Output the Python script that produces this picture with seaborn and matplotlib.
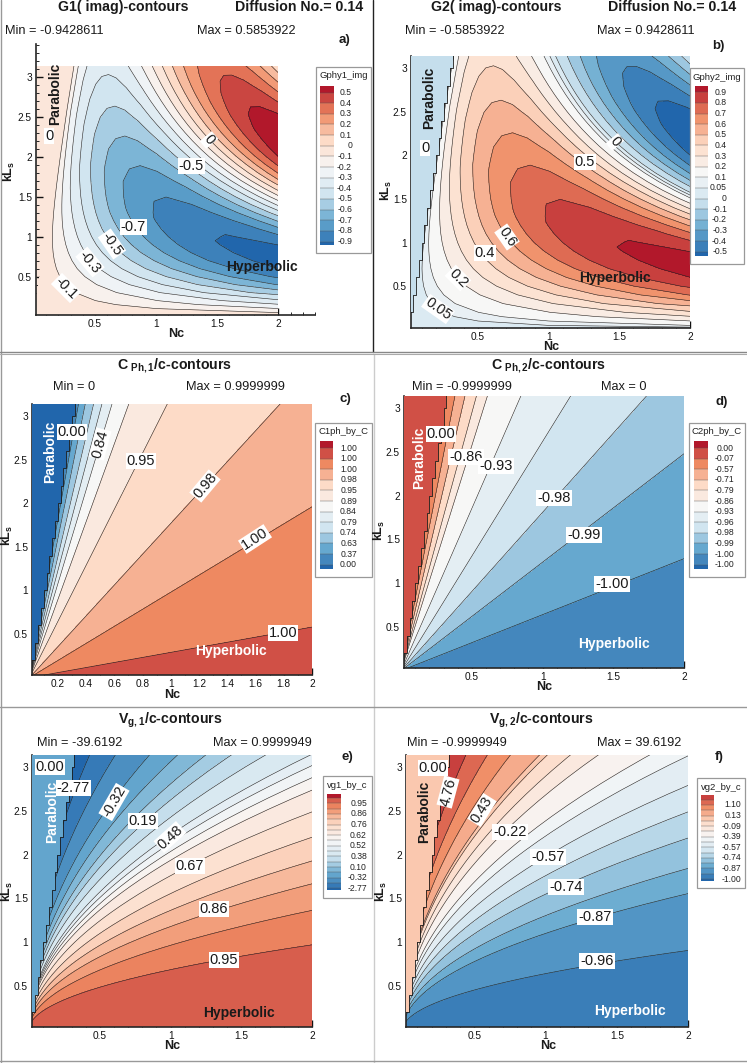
import numpy as np
import seaborn as sns
import matplotlib
matplotlib.use("Agg")
import matplotlib.pyplot as plt
from matplotlib.lines import Line2D
from matplotlib.patches import Rectangle
from matplotlib.ticker import MultipleLocator, FuncFormatter

W, H = 747, 1063

# G1 imag in panel a): damping per kLs row times swing per phase column.
# G2 in panel b) mirrors it (Min/Max swap)
amp_kl = [.02, .05, .1, .15, .2, .3, .4, .5, .6, .7, .8, .9, 1, 1.1, 1.2, 1.3, 1.4, 1.5, 1.6, 1.7, 1.8,
          1.9, 2, 2.1, 2.2, 2.3, 2.4, 2.5, 2.6, 2.7, 2.8, 2.9, 3, 3.1, 3.14]
amp_val = [1, 1, .999, .998, .996, .991, .984, .975, .965, .952, .938, .922, .905, .886, .866, .845, .822,
           .799, .774, .749, .723, .697, .670, .643, .616, .589, .562, .535, .509, .482, .456, .431, .407,
           .382, .373]
wave_ph = [0, .01, .02, .05, .1, .2, .4, .6, .8, 1.0, 1.2, 1.4, 1.6, 1.8, 2.0, 2.2, 2.4, 2.6, 2.8, 3.0, 3.2,
           3.4, 3.6, 3.8, 4.0, 4.2, 4.4, 4.6, 4.8, 5.0, 5.2, 5.4, 5.6, 5.8, 6.0, 6.2, 6.4]
wave_val = [0, -.01, -.02, -.05, -.1, -.199, -.389, -.565, -.717, -.841, -.932, -.985, -1.0, -.974, -.909,
            -.808, -.675, -.516, -.335, -.141, .058, .256, .443, .612, .757, .872, .952, .994, .996, .959,
            .883, .773, .631, .465, .279, .083, -.117]
a_levels = [-.9, -.8, -.7, -.6, -.5, -.4, -.3, -.2, -.1, 0, .1, .2, .3, .4, .5]
a_bar = ['0.5', '0.4', '0.3', '0.2', '0.1', '0', '-0.1', '-0.2', '-0.3', '-0.4', '-0.5', '-0.6', '-0.7', '-0.8', '-0.9']
b_levels = [-.5, -.4, -.3, -.2, -.1, 0, .05, .1, .2, .3, .4, .5, .6, .7, .8, .9]
b_bar = ['0.9', '0.8', '0.7', '0.6', '0.5', '0.4', '0.3', '0.2', '0.1', '0.05', '0', '-0.1', '-0.2', '-0.3', '-0.4', '-0.5']

# phase speed: depends on kLs/Nc only, value per ray
c_slope = [0, .29, .98, 1.77, 3.22, 4.47, 5.38, 6.13, 6.93, 7.97, 9.07, 10.5, 200]
c_value = [.9999, .9995, .995, .98, .95, .89, .84, .79, .74, .63, .37, 0, 0]
c_levels = [0, .37, .63, .74, .79, .84, .89, .95, .98, .995, .9995, .99995]
c_bar = ['1.00', '1.00', '1.00', '0.98', '0.95', '0.89', '0.84', '0.79', '0.74', '0.63', '0.37', '0.00']

d_slope = [0, .64, 1.24, 1.81, 2.62, 3.71, 5.15, 5.9, 6.96, 8.26, 10.2, 10.6, 200]
d_value = [-.9995, -.998, -.99, -.98, -.96, -.93, -.86, -.79, -.71, -.57, -.07, -.03, -.03]
d_levels = [-.9999, -.998, -.99, -.98, -.96, -.93, -.86, -.79, -.71, -.57, -.07, 0]
d_bar = ['0.00', '-0.07', '-0.57', '-0.71', '-0.79', '-0.86', '-0.93', '-0.96', '-0.98', '-0.99', '-1.00', '-1.00']

# group speed: depends on kLs^2/Nc only, value per curve
e_t = [0, .47, .93, 1.39, 1.86, 2.42, 3.1, 3.75, 4.15, 4.56, 4.96, 5.9, 6.9, 7.9, 9.4, 11.6, 16.2, 23.1, 33, 600]
e_value = [.999, .95, .91, .86, .81, .76, .67, .62, .57, .52, .48, .38, .19, .10, -.11, -.32, -1.0, -2.77, -10, -39]
e_levels = [-2.77, -1.0, -.32, -.11, .10, .19, .38, .48, .52, .57, .62, .67, .76, .81, .86, .91, .95, .9999]
e_bar = ['', '0.95', '', '0.86', '', '0.76', '', '0.62', '', '0.52', '', '0.38', '', '0.10', '', '-0.32', '', '-2.77']

f_t = [0, .41, 1.21, 1.7, 2.4, 3.1, 3.9, 4.9, 5.7, 7.2, 8.4, 9.75, 10.3, 13.1, 16.7, 22.4, 33, 600]
f_value = [-.999, -.96, -.87, -.81, -.74, -.66, -.57, -.48, -.39, -.22, -.09, .01, .13, .43, 1.10, 4.76, 10, 38]
f_levels = [-1.0, -.96, -.87, -.81, -.74, -.66, -.57, -.48, -.39, -.22, -.09, .01, .13, .43, 1.10, 4.76, 39]
f_bar = ['', '', '1.10', '', '0.13', '', '-0.09', '', '-0.39', '', '-0.57', '', '-0.74', '', '-0.87', '', '-1.00']

# stair edge of the parabolic zone
edge_nc = [.02, .04, .06, .08, .10, .12, .14, .16, .18, .20, .22, .24, .26, .28, .30, .32]
edge_kl = [.2, .4, .6, .8, 1.0, 1.2, 1.4, 1.6, 1.8, 2.0, 2.2, 2.4, 2.6, 2.8, 3.0, 3.2]

sns.set_theme(style="ticks")
plt.rcParams['font.family'] = ['Liberation Sans', 'DejaVu Sans']
plt.rcParams['mathtext.fontset'] = 'custom'
plt.rcParams['mathtext.rm'] = 'Liberation Sans'
plt.rcParams['mathtext.bf'] = 'Liberation Sans:bold'

fig = plt.figure(figsize=(W / 100, H / 100), dpi=100, facecolor='white')
rdbu = ["#2166ac", "#67a9cf", "#d1e5f0", "#f7f7f7", "#fddbc7", "#ef8a62", "#b2182b"]


def px_axes(l, t, r, b):
    return fig.add_axes([l / W, 1 - b / H, (r - l) / W, (b - t) / H])


def put(x, y, s, size=10, ha='center', weight='normal', color='k', rot=0, box=False):
    bb = dict(fc='white', ec='none', pad=0.6) if box else None
    fig.text(x / W, 1 - y / H, s, fontsize=size, ha=ha, va='center', fontweight=weight,
             color=color, rotation=rot, rotation_mode='anchor', bbox=bb, zorder=5)


def panel(rect, X, Y, Z, levels, xlim, ylim, xmajor=.5, clip=None, spare=0):
    ax = px_axes(*rect)
    pal = sns.blend_palette(rdbu, len(levels) + 1 + spare)
    if spare:
        # top band is hardly used, it keeps the darkest red
        pal = pal[:len(levels)] + [pal[-1]]
    cf = ax.contourf(X, Y, Z, levels=levels, colors=pal, extend='both', zorder=1)
    cl = ax.contour(X, Y, Z, levels=levels, colors='#222222', linewidths=.4, linestyles='solid', zorder=2)
    ax.set_xlim(*xlim)
    ax.set_ylim(*ylim)
    if clip:
        r = Rectangle((xlim[0], ylim[0]), clip[0] - xlim[0], clip[1] - ylim[0], transform=ax.transData)
        cf.set_clip_path(r)
        cl.set_clip_path(r)
    sns.despine(ax=ax)
    ax.spines['left'].set_linewidth(1.2)
    ax.spines['bottom'].set_linewidth(1.2)
    ax.set_facecolor('none')
    ax.xaxis.set_major_locator(MultipleLocator(xmajor))
    ax.xaxis.set_minor_locator(MultipleLocator(.1))
    ax.yaxis.set_major_locator(MultipleLocator(.5))
    ax.yaxis.set_minor_locator(MultipleLocator(.1))
    fmt = FuncFormatter(lambda v, _: '{:g}'.format(round(v, 2)))
    ax.xaxis.set_major_formatter(fmt)
    ax.yaxis.set_major_formatter(fmt)
    ax.tick_params(which='major', direction='in', length=5, width=1, labelsize=7.3, pad=3, colors='#111111')
    ax.tick_params(which='minor', direction='in', length=2.5, width=.7)
    return ax, pal


def stairs(ax, colour):
    ax.fill_between(edge_nc, edge_kl, 3.2, step='post', color=colour, lw=0, zorder=3)
    ax.step(edge_nc, edge_kl, where='post', color='k', lw=.6, zorder=3)


def legend_box(box, bar, first, last, title, labels, pal, lab_right):
    l, t, r, b = box
    fig.add_artist(Rectangle((l / W, 1 - b / H), (r - l) / W, (b - t) / H, transform=fig.transFigure,
                             fc='white', ec='#999999', lw=.9, zorder=2))
    cax = px_axes(*bar)
    cax.set_zorder(3)
    cax.axis('off')
    cax.set_xlim(0, 1)
    cax.set_ylim(bar[3], bar[1])
    ys = np.linspace(first, last, len(labels))
    edges = [bar[1]] + list(ys) + [bar[3]]
    cols = list(pal)[::-1]
    for i in range(len(cols)):
        cax.axhspan(edges[i], edges[i + 1], color=cols[i], lw=0)
    cax.hlines(ys, 0, 1, color='#555555', lw=.3)
    for y, s in zip(ys, labels):
        put(lab_right, y, s, size=6.2, ha='right', color='#222222')
    put((l + r) / 2, t + 9, title, size=6.8, color='#222222')


# a) and b): mesh follows the phase columns, left of phase 0 is the flat parabolic zone
ph, kl = np.meshgrid(wave_ph, amp_kl)
gX = np.sqrt((ph / kl) ** 2 + (kl / 10) ** 2)
g1 = np.outer(amp_val, wave_val)
ax_a, pal_a = panel((36, 44, 315, 315), gX, kl, g1, a_levels, (.016, 2.3), (.02, 3.41), clip=(2, 3.14))
ax_b, pal_b = panel((411, 56, 690, 328), gX, kl, -g1, b_levels, (.025, 2), (.02, 3.14), clip=(2, 3.14))
ax_a.add_patch(Rectangle((.016, .02), 2 - .016, 3.14 - .02, color=pal_a[9], lw=0, zorder=0))
ax_b.add_patch(Rectangle((.025, .02), 2 - .025, 3.14 - .02, color=pal_b[5], lw=0, zorder=0))
stairs(ax_b, pal_b[5])

# c) and d): two rows of nodes are enough for straight rays
rx = np.array([.001, 2.05])
cX = np.outer(rx, np.ones(len(c_slope)))
cY = np.outer(rx, c_slope)
dX = np.outer(rx, np.ones(len(d_slope)))
dY = np.outer(rx, d_slope)
ax_c, pal_c = panel((32, 404, 312, 675), cX, cY, np.tile(c_value, (2, 1)), c_levels, (.017, 2), (.03, 3.14), xmajor=.2)
ax_d, pal_d = panel((404, 396, 684, 668), dX, dY, np.tile(d_value, (2, 1)), d_levels, (.02, 2), (.03, 3.14))
stairs(ax_c, pal_c[0])
stairs(ax_d, pal_d[11])

# e) and f)
cx = np.geomspace(.001, 2.05, 80)
eX = np.outer(cx, np.ones(len(e_t)))
eY = np.sqrt(np.outer(cx, e_t))
fX = np.outer(cx, np.ones(len(f_t)))
fY = np.sqrt(np.outer(cx, f_t))
ax_e, pal_e = panel((32, 755, 312, 1027), eX, eY, np.tile(e_value, (80, 1)), e_levels, (.02, 2), (.03, 3.14), spare=1)
ax_f, pal_f = panel((406, 755, 688, 1027), fX, fY, np.tile(f_value, (80, 1)), f_levels, (.02, 2), (.03, 3.14))
stairs(ax_e, pal_e[3])
stairs(ax_f, pal_f[12])

# legends
legend_box((316, 67, 371, 253), (320, 86, 334, 245), 92.5, 241.5, 'Gphy1_img', a_bar, pal_a, 352)
legend_box((690, 68, 744, 264), (695, 86, 708, 256), 92.3, 251.7, 'Gphy2_img', b_bar, pal_b, 727)
legend_box((315, 423, 372, 577), (320, 441, 333, 569), 448, 564.7, 'C1ph_by_C', c_bar, pal_c, 357)
legend_box((689, 423, 745, 577), (694, 441, 708, 569), 448, 564.7, 'C2ph_by_C', d_bar, pal_d, 734)
legend_box((323, 776, 372, 898), (327, 794, 341, 890), 798, 888.3, 'vg1_by_c', e_bar, pal_e, 367)
legend_box((697, 778, 745, 888), (701, 795, 714, 881), 794.4, 879, 'vg2_by_c', f_bar, pal_f, 741)

# titles
put(123, 7, 'G1( imag)-contours', 10.2, weight='bold')
put(299, 7, 'Diffusion No.= 0.14', 10.2, weight='bold')
put(496, 7, 'G2( imag)-contours', 10.2, weight='bold')
put(672, 7, 'Diffusion No.= 0.14', 10.2, weight='bold')
put(175, 366, r'$\mathbf{C}_{\ \mathbf{Ph,1}}$/c-contours', 10.2, weight='bold')
put(549, 366, r'$\mathbf{C}_{\ \mathbf{Ph,2}}$/c-contours', 10.2, weight='bold')
put(170, 720, r'$\mathbf{V}_{\mathbf{g,1}}$/c-contours', 10.2, weight='bold')
put(541, 720, r'$\mathbf{V}_{\mathbf{g,2}}$/c-contours', 10.2, weight='bold')

for x, y, s in [(5, 31, 'Min = -0.9428611'), (197, 31, 'Max = 0.5853922'),
                (405, 31, 'Min = -0.5853922'), (597, 31, 'Max = 0.9428611'),
                (53, 387, 'Min = 0'), (186, 387, 'Max = 0.9999999'),
                (412, 387, 'Min = -0.9999999'), (601, 387, 'Max = 0'),
                (37, 743, 'Min = -39.6192'), (213, 743, 'Max = 0.9999949'),
                (407, 743, 'Min = -0.9999949'), (597, 743, 'Max = 39.6192')]:
    put(x, y, s, 9.2, ha='left')

for x, y, s in [(339, 40, 'a)'), (712, 46, 'b)'), (339, 399, 'c)'), (715, 402, 'd)'), (342, 757, 'e)'), (715, 757, 'f)')]:
    put(x, y, s, 9.5, ha='left', weight='bold')

for x, y in [(176, 334), (551, 347), (172, 695), (544, 687), (172, 1046), (548, 1046)]:
    put(x, y, 'Nc', 9, weight='bold')
for x, y in [(9, 171), (386, 190), (7, 535), (379, 530), (7, 891), (381, 891)]:
    put(x, y, r'$\mathbf{kL_s}$', 9, weight='bold', rot=90)

# contour labels
for x, y, s, r in [(49, 136, '0', 0), (191, 166, '-0.5', 0), (209, 140, '0', -50), (133, 227, '-0.7', 0),
                   (112, 244, '-0.5', -55), (90, 262, '-0.3', -50), (66, 288, '-0.1', -45),
                   (425, 148, '0', 0), (585, 162, '0.5', 0), (615, 142, '0', -50), (507, 237, '0.6', -55),
                   (485, 253, '0.4', 0), (458, 278, '0.2', -45), (438, 309, '0.05', -35),
                   (72, 432, '0.00', 0), (100, 444, '0.84', 75), (141, 461, '0.95', 0), (205, 486, '0.98', 50),
                   (255, 539, '1.00', 33), (283, 633, '1.00', 0),
                   (441, 434, '0.00', 0), (466, 457, '-0.86', 0), (496, 466, '-0.93', 0), (554, 498, '-0.98', 0),
                   (584, 535, '-0.99', 0), (612, 584, '-1.00', 0),
                   (50, 767, '0.00', 0), (73, 788, '-2.77', 0), (114, 802, '-0.32', 60), (143, 821, '0.19', 0),
                   (170, 837, '0.48', 42), (190, 866, '0.67', 0), (214, 909, '0.86', 0), (224, 960, '0.95', 0),
                   (433, 768, '0.00', 0), (448, 792, '4.76', 75), (482, 810, '0.43', 58), (510, 832, '-0.22', 0),
                   (548, 857, '-0.57', 0), (566, 887, '-0.74', 0), (595, 917, '-0.87', 0), (597, 961, '-0.96', 0)]:
    put(x, y, s, 10.5, rot=r, box=True)

# zone names
for x, y, col in [(55, 94, 'k'), (429, 98, 'k'), (50, 452, 'white'), (419, 458, 'white'), (52, 812, 'white'), (424, 812, 'k')]:
    put(x, y, 'Parabolic', 10, weight='bold', color=col, rot=90)
for x, y, col in [(262, 267, 'k'), (615, 278, 'k'), (231, 651, 'white'), (614, 644, 'white'), (239, 1013, 'k'), (630, 1011, 'white')]:
    put(x, y, 'Hyperbolic', 10, weight='bold', color=col)

# panel frames
for xs, ys, col, lw in [([1, 1], [0, 1063], '#999999', 1), ([372.5, 372.5], [0, 352], '#222222', 1),
                        ([373.5, 373.5], [354, 1063], '#cccccc', 1), ([0, 747], [351.5, 351.5], '#888888', 1),
                        ([0, 747], [353.8, 353.8], '#aaaaaa', .8), ([0, 747], [707, 707], '#999999', 1),
                        ([0, 747], [1061, 1061], '#999999', 1)]:
    fig.add_artist(Line2D([x / W for x in xs], [1 - y / H for y in ys], transform=fig.transFigure, color=col, lw=lw))

fig.savefig('out.png', dpi=100)
